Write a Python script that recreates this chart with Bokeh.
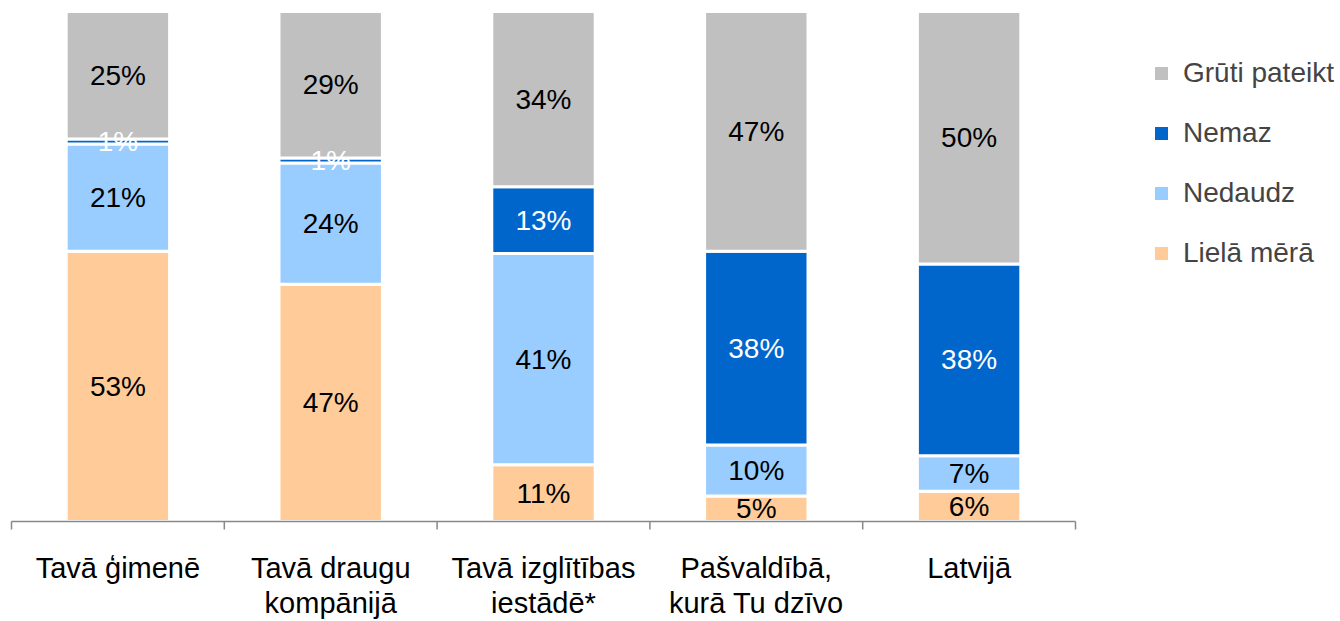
from bokeh.plotting import figure
from bokeh.models import ColumnDataSource, Range1d, Legend, LegendItem
from bokeh.embed import file_html
from bokeh.resources import INLINE
from bokeh.core.properties import value

categories_line1 = ["Tavā ģimenē", "Tavā draugu", "Tavā izglītības", "Pašvaldībā,", "Latvijā"]
categories_line2 = ["", "kompānijā", "iestādē*", "kurā Tu dzīvo", ""]
series = ["Lielā mērā", "Nedaudz", "Nemaz", "Grūti pateikt"]
liela_mera = [53, 47, 11, 5, 6]
nedaudz = [21, 24, 41, 10, 7]
nemaz = [1, 1, 13, 38, 38]
gruti_pateikt = [25, 29, 34, 47, 50]

colors = ["#FFCC99", "#99CCFF", "#0066CC", "#C0C0C0"]
label_colors = ["black", "black", "white", "black"]
FONT = "Liberation Sans"

values = [liela_mera, nedaudz, nemaz, gruti_pateikt]
n = len(categories_line1)
xs = list(range(1, n + 1))
totals = [sum(v[i] for v in values) for i in range(n)]

data = {"x": xs}
keys = []
for k, vals in enumerate(values):
    key = f"s{k}"
    keys.append(key)
    data[key] = [vals[i] / totals[i] for i in range(n)]
source = ColumnDataSource(data)

# ---- layout in pixels (figure coords) ----
W, H = 1338, 620
left_px = 11           # x = 0.5 boundary
cat_px = 1064 / n      # width of one category
top_px = 11            # y = 1 (top of bars)
base_px = 521          # y = 0 (axis line), measured from top
ppu = base_px - top_px # pixels per unit of y

x0 = 0.5 - left_px / cat_px
y0 = -(H - base_px) / ppu
p = figure(width=W, height=H,
           x_range=Range1d(x0, x0 + W / cat_px),
           y_range=Range1d(y0, y0 + H / ppu),
           output_backend="svg", toolbar_location=None,
           x_axis_location=None, y_axis_location=None,
           min_border=0, min_border_left=0, min_border_right=0,
           min_border_top=0, min_border_bottom=0)
p.outline_line_color = None
p.xgrid.visible = False
p.ygrid.visible = False

renderers = p.vbar_stack(keys, x="x", width=0.486, source=source, color=colors,
                         line_color="white", line_width=3)

# data labels
for k, vals in enumerate(values):
    mids = []
    for i in range(n):
        below = sum(values[j][i] for j in range(k)) / totals[i]
        mids.append(below + vals[i] / totals[i] / 2)
    lsrc = ColumnDataSource({"x": xs, "y": mids, "t": [f"{v}%" for v in vals]})
    p.text(x="x", y="y", text="t", source=lsrc, text_align="center", text_baseline="middle",
           text_font=value(FONT), text_font_size="28px", text_color=label_colors[k])

# category axis: line, boundary ticks, labels
bounds = [i + 0.5 for i in range(n + 1)]
p.segment(x0=[bounds[0]], y0=[0], x1=[bounds[-1]], y1=[0], line_color="#888888", line_width=1.5)
p.segment(x0=bounds, y0=[0] * len(bounds), x1=bounds, y1=[-8 / ppu] * len(bounds),
          line_color="#888888", line_width=1.5)
line1_y = -(567 - base_px) / ppu
line2_y = -(602 - base_px) / ppu
p.text(x=xs, y=[line1_y] * n, text=categories_line1, text_align="center",
       text_baseline="middle", text_font=value(FONT), text_font_size="29px",
       text_color="black")
p.text(x=xs, y=[line2_y] * n, text=categories_line2, text_align="center",
       text_baseline="middle", text_font=value(FONT), text_font_size="29px",
       text_color="black")

items = [LegendItem(label=series[k], renderers=[renderers[k]]) for k in [3, 2, 1, 0]]
legend = Legend(items=items, location=(1151, 351), orientation="vertical",
                border_line_color=None, background_fill_alpha=0,
                label_text_font=FONT, label_text_font_size="28px",
                glyph_width=20, glyph_height=20, label_standoff=12,
                label_height=30, spacing=28, padding=0, margin=0)
p.add_layout(legend)

open("out.html", "w").write(file_html(p, INLINE))
